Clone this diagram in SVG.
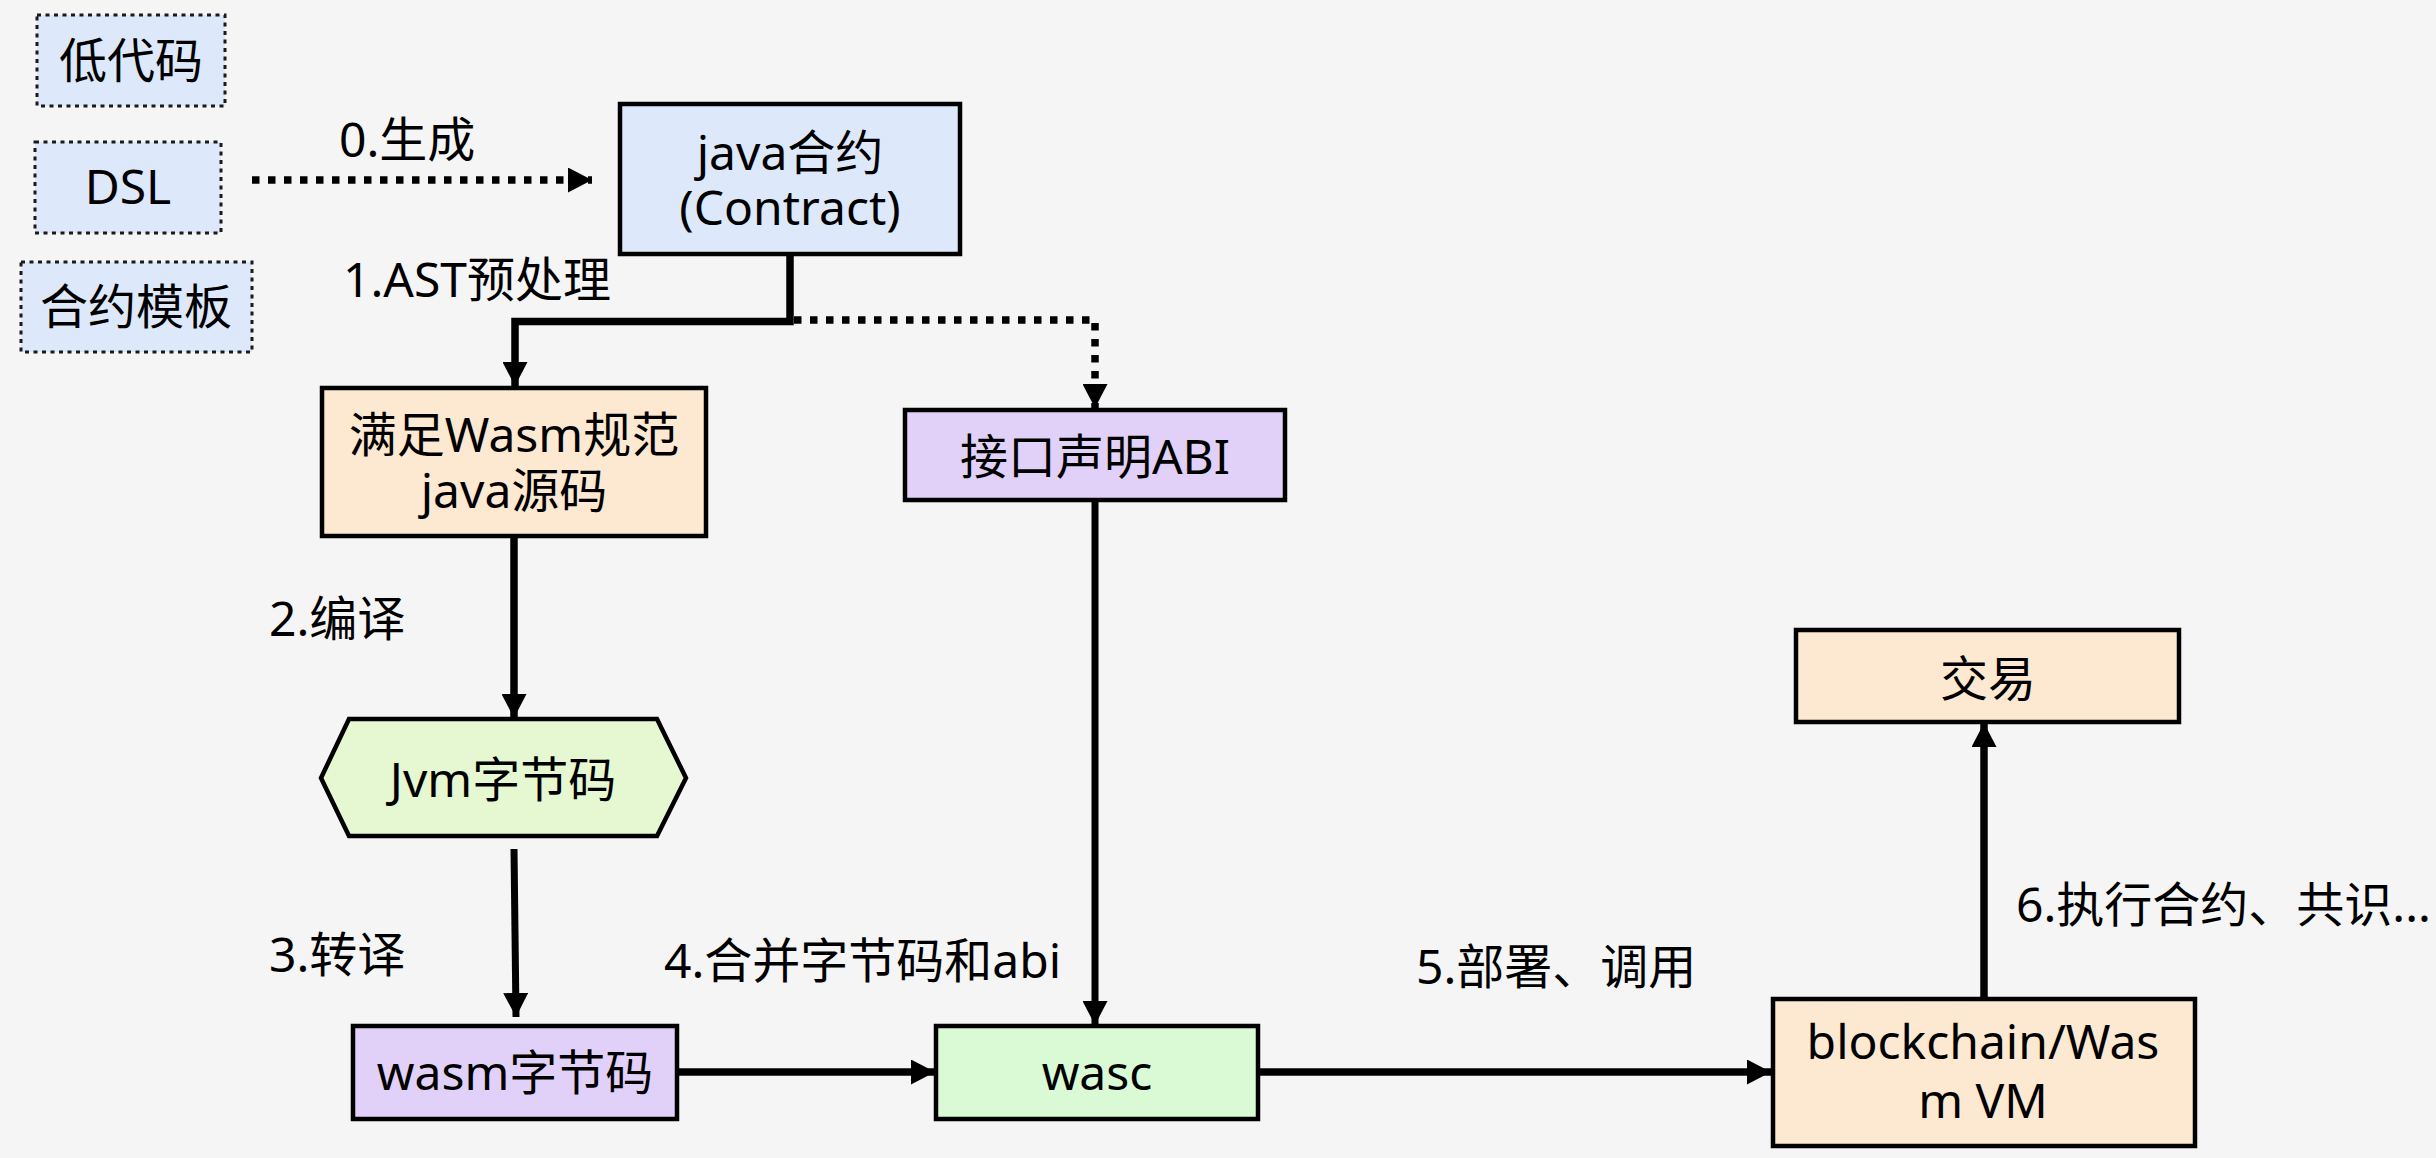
<svg xmlns="http://www.w3.org/2000/svg" width="2436" height="1158" viewBox="0 0 2436 1158">
<defs>
<style>
text{font-family:"Noto Sans","Noto Sans CJK SC",sans-serif;font-size:48px;fill:#000;text-anchor:middle}
.lbl{text-anchor:start}
.box{stroke:#000;stroke-width:4.5}
.dotbox{stroke:#1a1a1a;stroke-width:3;stroke-dasharray:4 4.5}
.blue{fill:#dde9fb}
.peach{fill:#fde8d1}
.lav{fill:#e1d1f8}
.lgreen{fill:#e5f8d1}
.mint{fill:#d9fad5}
.ln{fill:none;stroke:#000;stroke-width:7.5}
.thin{stroke-width:7}
.dot{stroke-width:7.5;stroke-dasharray:7.5 8.5}
</style>
<marker id="ah" markerWidth="24" markerHeight="25" refX="24" refY="12.5" orient="auto" markerUnits="userSpaceOnUse" viewBox="0 0 24 25">
<path d="M0,0 L24,12.5 L0,25 z" fill="#000"/>
</marker>
</defs>
<rect width="2436" height="1158" fill="#f5f5f5"/>

<g id="connectors">
<path class="ln dot" d="M252,180 H592" marker-end="url(#ah)"/>
<path class="ln" d="M790,254 V321.5 H515 V386" marker-end="url(#ah)"/>
<path class="ln dot" d="M794,320 H1095 V408" marker-end="url(#ah)"/>
<path class="ln" d="M514,537 V718" marker-end="url(#ah)"/>
<path class="ln thin" d="M514,849 L516,1017" marker-end="url(#ah)"/>
<path class="ln thin" d="M1095,500 V1025" marker-end="url(#ah)"/>
<path class="ln" d="M677,1072 H935" marker-end="url(#ah)"/>
<path class="ln" d="M1258,1072 H1771" marker-end="url(#ah)"/>
<path class="ln" d="M1984,998 V723" marker-end="url(#ah)"/>
</g>

<g id="labels">
<text class="lbl" x="339" y="157">0.生成</text>
<text class="lbl" x="343" y="297">1.AST预处理</text>
<text class="lbl" x="269" y="636">2.编译</text>
<text class="lbl" x="269" y="972">3.转译</text>
<text class="lbl" x="664" y="978">4.合并字节码和abi</text>
<text class="lbl" x="1416" y="984">5.部署、调用</text>
<text class="lbl" x="2016" y="922">6.执行合约、共识...</text>
</g>

<g id="lowcode">
<rect class="dotbox blue" x="37" y="15" width="188" height="91"/>
<text x="131" y="78">低代码</text>
</g>
<g id="dsl">
<rect class="dotbox blue" x="35" y="142" width="186" height="91"/>
<text x="128" y="204">DSL</text>
</g>
<g id="template">
<rect class="dotbox blue" x="21" y="262" width="231" height="90"/>
<text x="136" y="324">合约模板</text>
</g>

<g id="java-contract">
<rect class="box blue" x="620" y="104" width="340" height="150"/>
<text x="790" y="170">java合约<tspan x="790" y="225">(Contract)</tspan></text>
</g>

<g id="wasm-java">
<rect class="box peach" x="322" y="388" width="384" height="148"/>
<text x="514" y="452">满足Wasm规范<tspan x="514" y="508">java源码</tspan></text>
</g>

<g id="abi">
<rect class="box lav" x="905" y="410" width="380" height="90"/>
<text x="1095" y="474">接口声明ABI</text>
</g>

<g id="jvm">
<polygon class="box lgreen" points="321,778 349,719 657,719 686,778 657,836 349,836"/>
<text x="503" y="797">Jvm字节码</text>
</g>

<g id="wasm">
<rect class="box lav" x="353" y="1026" width="324" height="93"/>
<text x="515" y="1090">wasm字节码</text>
</g>

<g id="wasc">
<rect class="box mint" x="936" y="1026" width="322" height="93"/>
<text x="1097" y="1090">wasc</text>
</g>

<g id="blockchain">
<rect class="box peach" x="1773" y="999" width="422" height="147"/>
<text x="1983" y="1059">blockchain/Was<tspan x="1983" y="1118">m VM</tspan></text>
</g>

<g id="tx">
<rect class="box peach" x="1796" y="630" width="383" height="92"/>
<text x="1988" y="696">交易</text>
</g>
</svg>
